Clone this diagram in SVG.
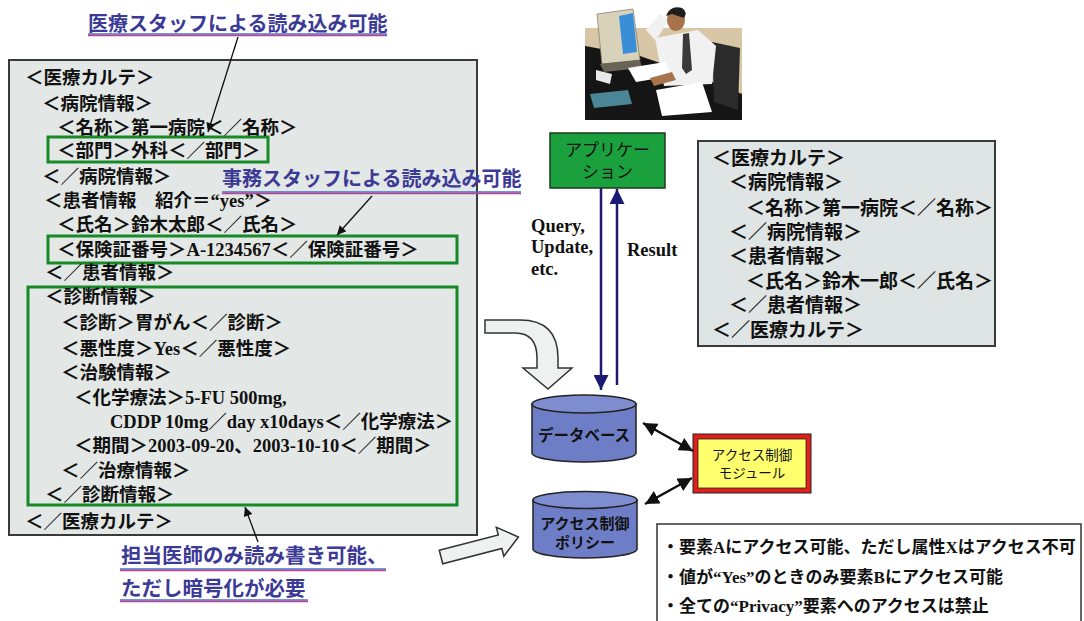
<svg xmlns="http://www.w3.org/2000/svg" width="1084" height="621" viewBox="0 0 1084 621">
  <defs>
    <style>
      .jp { font-family: "Noto Sans CJK JP", "Noto Sans", sans-serif; font-weight: 700; fill: #111; }
      .rec { font-size: 18.5px; }
      .rec2 { font-size: 19px; }
      .lat { font-family: "Liberation Serif", serif; font-weight: 700; }
      .lbl { font-family: "Noto Sans CJK JP", sans-serif; font-weight: 700; font-size: 20px; fill: #3b3a96; }
      .ul1 { stroke: #3f6fd0; stroke-width: 1.3; }
      .ul2 { stroke: #c2408a; stroke-width: 1.3; }
      .panel { fill: #e3e8e6; stroke: #3a3a3a; stroke-width: 2; }
      .gbox { fill: none; stroke: #178a28; stroke-width: 3; }
      .ptr { stroke: #111; stroke-width: 1.3; fill: none; }
      .io { stroke: #1c1a72; stroke-width: 2.5; fill: none; }
      .dbl { stroke: #111; stroke-width: 2.5; fill: none; }
      .block { fill: #eef1f0; stroke: #333; stroke-width: 1.5; }
      .cyl { fill: #6e7ec6; stroke: #222; stroke-width: 1.5; }
      .cyltop { fill: #7d8dd0; stroke: #222; stroke-width: 1.5; }
      .qr { font-family: "Liberation Serif", serif; font-weight: 700; font-size: 18.5px; fill: #111; }
    </style>
    <marker id="tipBlack" viewBox="0 0 10 10" refX="10" refY="5" markerWidth="10" markerHeight="9" markerUnits="userSpaceOnUse" orient="auto">
      <path d="M0,0 L10,5 L0,10 Z" fill="#111"/>
    </marker>
    <marker id="tipNavy" viewBox="0 0 10 10" refX="10" refY="5" markerWidth="15" markerHeight="15" markerUnits="userSpaceOnUse" orient="auto">
      <path d="M0,0 L10,5 L0,10 Z" fill="#1c1a72"/>
    </marker>
    <marker id="tipBoth" viewBox="0 0 10 10" refX="10" refY="5" markerWidth="14" markerHeight="14" markerUnits="userSpaceOnUse" orient="auto-start-reverse">
      <path d="M0,0 L10,5 L0,10 Z" fill="#111"/>
    </marker>
  </defs>

  <rect width="1084" height="621" fill="#ffffff"/>

  <!-- full medical record (XML) -->
  <g id="record-full">
    <rect class="panel" x="9" y="60" width="468" height="475"/>
    <rect class="gbox" x="48" y="137" width="220" height="25"/>
    <rect class="gbox" x="48" y="236" width="409" height="27"/>
    <rect class="gbox" x="28" y="287" width="429" height="218"/>
    <g class="jp rec">
      <text x="25" y="84">＜医療カルテ＞</text>
      <text x="42" y="110">＜病院情報＞</text>
      <text x="57" y="134">＜名称＞第一病院＜／名称＞</text>
      <text x="57" y="157">＜部門＞外科＜／部門＞</text>
      <text x="42" y="183">＜／病院情報＞</text>
      <text x="44" y="207">＜患者情報　紹介＝<tspan class="lat">“yes”</tspan>＞</text>
      <text x="57" y="231">＜氏名＞鈴木太郎＜／氏名＞</text>
      <text x="57" y="256">＜保険証番号＞<tspan class="lat">A-1234567</tspan>＜／保険証番号＞</text>
      <text x="45" y="279">＜／患者情報＞</text>
      <text x="45" y="303">＜診断情報＞</text>
      <text x="61" y="329">＜診断＞胃がん＜／診断＞</text>
      <text x="61" y="355">＜悪性度＞<tspan class="lat">Yes</tspan>＜／悪性度＞</text>
      <text x="61" y="379">＜治験情報＞</text>
      <text x="74" y="404">＜化学療法＞<tspan class="lat">5-FU 500mg,</tspan></text>
      <text x="110" y="428"><tspan class="lat">CDDP 10mg</tspan>／<tspan class="lat">day x10days</tspan>＜／化学療法＞</text>
      <text x="74" y="452">＜期間＞<tspan class="lat">2003-09-20</tspan>、<tspan class="lat">2003-10-10</tspan>＜／期間＞</text>
      <text x="61" y="477">＜／治療情報＞</text>
      <text x="45" y="501">＜／診断情報＞</text>
      <text x="25" y="528">＜／医療カルテ＞</text>
    </g>
  </g>

  <!-- annotation labels -->
  <g id="label-medical-staff">
    <text class="lbl" x="88" y="31">医療スタッフによる読み込み可能</text>
    <line class="ul1" x1="88" y1="34" x2="387" y2="34"/>
    <line class="ul2" x1="88" y1="35.5" x2="387" y2="35.5"/>
  </g>
  <g id="label-office-staff">
    <text class="lbl" x="222" y="186">事務スタッフによる読み込み可能</text>
    <line class="ul1" x1="222" y1="192" x2="521" y2="192"/>
    <line class="ul2" x1="222" y1="193.5" x2="521" y2="193.5"/>
  </g>
  <g id="label-doctor">
    <text class="lbl" x="121" y="563" style="font-size:20.5px">担当医師のみ読み書き可能、</text>
    <line class="ul1" x1="120" y1="569" x2="386" y2="569"/>
    <line class="ul2" x1="120" y1="570.5" x2="386" y2="570.5"/>
    <text class="lbl" x="121" y="596" style="font-size:20.5px">ただし暗号化が必要</text>
    <line class="ul1" x1="120" y1="600" x2="308" y2="600"/>
    <line class="ul2" x1="120" y1="601.5" x2="308" y2="601.5"/>
  </g>

  <!-- user at workstation -->
  <g id="user-illustration">
    <rect x="585" y="28" width="157" height="92" fill="#d8c7a6"/>
    <path d="M585,46 L640,56 L692,74 L742,94 V120 H585 Z" fill="#151515"/>
    <path d="M597,14 L633,9 L640,60 L602,64 Z" fill="#d9d2ba" stroke="#8a8270" stroke-width="0.8"/>
    <path d="M619,16 L633,13 L637,52 L623,54 Z" fill="#3a8ed8"/>
    <path d="M600,64 L640,60 L642,68 L604,72 Z" fill="#6a6456"/>
    <path d="M596,70 L612,74 L610,84 L596,80 Z" fill="#e8e8e8"/>
    <path d="M590,94 L628,90 L632,104 L594,108 Z" fill="#4a8696"/>
    <path d="M712,42 L740,48 L738,110 L714,102 Z" fill="#2b2b2b"/>
    <path d="M655,38 L698,30 L716,46 L712,84 L664,86 Z" fill="#f1f1f1"/>
    <path d="M683,34 L689,33 L692,70 L686,74 L682,68 Z" fill="#3a3a3a"/>
    <path d="M655,40 L646,30 L660,14 L668,20 L660,34 Z" fill="#f1f1f1"/>
    <ellipse cx="676" cy="20" rx="9" ry="11" fill="#a8734c"/>
    <path d="M666,16 Q670,5 682,8 Q688,12 684,18 L672,14 Z" fill="#1e1e1e"/>
    <path d="M628,68 L665,62 L672,76 L636,82 Z" fill="#ffffff"/>
    <path d="M656,90 L702,82 L712,112 L662,116 Z" fill="#ffffff"/>
    <path d="M650,78 L672,72 L676,80 L654,86 Z" fill="#a8734c"/>
  </g>

  <!-- application -->
  <g id="application">
    <rect x="550" y="133" width="115" height="55" fill="#1aa03c" stroke="#1d3a1d" stroke-width="1.5"/>
    <text class="jp" x="607.5" y="156" text-anchor="middle" style="font-size:17px;font-weight:400">アプリケー</text>
    <text class="jp" x="607.5" y="178" text-anchor="middle" style="font-size:17px;font-weight:400">ション</text>
  </g>

  <!-- stored record, patient-office view -->
  <g id="record-view">
    <rect class="panel" x="698" y="141" width="297" height="205" style="fill:#dfe5e4"/>
    <g class="jp rec2">
      <text x="712" y="165">＜医療カルテ＞</text>
      <text x="729" y="189">＜病院情報＞</text>
      <text x="746" y="215">＜名称＞第一病院＜／名称＞</text>
      <text x="729" y="239">＜／病院情報＞</text>
      <text x="729" y="263">＜患者情報＞</text>
      <text x="746" y="288">＜氏名＞鈴木一郎＜／氏名＞</text>
      <text x="729" y="312">＜／患者情報＞</text>
      <text x="712" y="337">＜／医療カルテ＞</text>
    </g>
  </g>

  <!-- database -->
  <g id="database">
    <path class="cyl" d="M532,404 V453 A52,9 0 0 0 636,453 V404 Z"/>
    <ellipse class="cyltop" cx="584" cy="404" rx="52" ry="9"/>
    <text class="jp" x="584" y="441" text-anchor="middle" style="font-size:15.5px">データベース</text>
  </g>

  <!-- access control policy store -->
  <g id="policy-store">
    <path class="cyl" d="M533,500 V549 A52,9 0 0 0 637,549 V500 Z"/>
    <ellipse class="cyltop" cx="585" cy="500" rx="52" ry="8.5"/>
    <text class="jp" x="585" y="529" text-anchor="middle" style="font-size:15px">アクセス制御</text>
    <text class="jp" x="585" y="548" text-anchor="middle" style="font-size:15px">ポリシー</text>
  </g>

  <!-- access control module -->
  <g id="access-module">
    <rect x="693" y="434" width="118" height="59" fill="#e0201c" stroke="#222" stroke-width="1"/>
    <rect x="698" y="439" width="108" height="49" fill="#ffff6e" stroke="#222" stroke-width="0.8"/>
    <text class="jp" x="752" y="460" text-anchor="middle" style="font-size:13.5px;font-weight:400">アクセス制御</text>
    <text class="jp" x="752" y="478" text-anchor="middle" style="font-size:13.5px;font-weight:400">モジュール</text>
  </g>

  <!-- policy rules -->
  <g id="policy-rules">
    <rect x="657" y="524" width="424" height="110" fill="#ffffff" stroke="#333" stroke-width="1.5"/>
    <g class="jp" style="font-size:17px">
      <text x="662" y="553">・要素<tspan class="lat">A</tspan>にアクセス可能、ただし属性<tspan class="lat">X</tspan>はアクセス不可</text>
      <text x="662" y="583">・値が<tspan class="lat">“Yes”</tspan>のときのみ要素<tspan class="lat">B</tspan>にアクセス可能</text>
      <text x="662" y="612">・全ての<tspan class="lat">“Privacy”</tspan>要素へのアクセスは禁止</text>
    </g>
  </g>

  <!-- connectors -->
  <g id="connectors">
    <line class="ptr" x1="238" y1="37" x2="208" y2="132" marker-end="url(#tipBlack)"/>
    <line class="ptr" x1="372" y1="196" x2="337" y2="235" marker-end="url(#tipBlack)"/>
    <line class="ptr" x1="258" y1="542" x2="245" y2="507" marker-end="url(#tipBlack)"/>

    <line class="io" x1="601" y1="188" x2="601" y2="390" marker-end="url(#tipNavy)"/>
    <line class="io" x1="617" y1="385" x2="617" y2="189" marker-end="url(#tipNavy)"/>
    <text class="qr" x="531" y="232">Query,</text>
    <text class="qr" x="531" y="253">Update,</text>
    <text class="qr" x="531" y="275">etc.</text>
    <text class="qr" x="627" y="256">Result</text>

    <line class="dbl" x1="643" y1="423" x2="693" y2="451" marker-start="url(#tipBoth)" marker-end="url(#tipBoth)"/>
    <line class="dbl" x1="645" y1="504" x2="692" y2="478" marker-start="url(#tipBoth)" marker-end="url(#tipBoth)"/>

    <path class="block" d="M485,320 H520 Q558,320 558,358 V368 H572 L548,389 L523,368 H537 V358 Q537,333 515,333 H485 Z"/>
    <path class="block" transform="translate(441,557) rotate(-14.5)" d="M0,-7 H61 V-15 L80,0 L61,15 V7 H0 Z"/>
  </g>
</svg>
